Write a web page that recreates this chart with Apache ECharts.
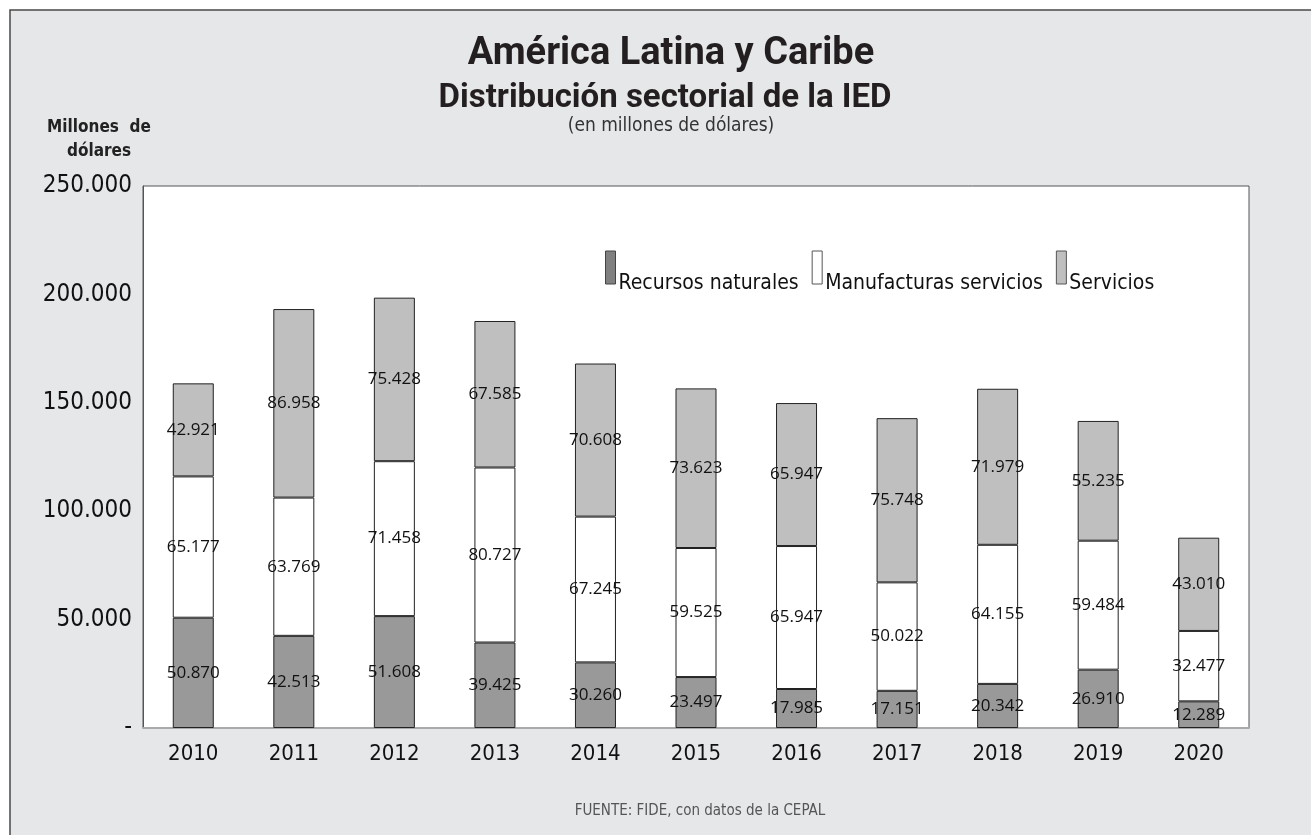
<!DOCTYPE html>
<html>
<head>
<meta charset="utf-8">
<script src="https://cdn.jsdelivr.net/npm/echarts@6/dist/echarts.min.js"></script>
<style>
  html, body { margin: 0; padding: 0; background: #ffffff; }
  #chart { width: 1311px; height: 835px; }
</style>
</head>
<body>
<div id="chart"></div>
<script>
// Años y valores por sector (millones de dólares)
const years = ['2010', '2011', '2012', '2013', '2014', '2015', '2016', '2017', '2018', '2019', '2020'];
const recursosNaturales = [50870, 42513, 51608, 39425, 30260, 23497, 17985, 17151, 20342, 26910, 12289];
const manufacturas = [65177, 63769, 71458, 80727, 67245, 59525, 65947, 50022, 64155, 59484, 32477];
const servicios = [42921, 86958, 75428, 67585, 70608, 73623, 65947, 75748, 71979, 55235, 43010];
const yTicks = [0, 50000, 100000, 150000, 200000, 250000];

const NARROW = "'Liberation Sans Narrow', 'Arial Narrow', 'DejaVu Sans Condensed', sans-serif";
const LABEL_FONT = "'Open Sans', 'Noto Sans', sans-serif";
const TITLE_FONT = "Roboto, 'Noto Sans', sans-serif";

// Separador de miles con punto
function fmt(v) {
  return String(v).replace(/\B(?=(\d{3})+(?!\d))/g, '.');
}

const barLabel = {
  show: true,
  position: 'inside',
  formatter: p => fmt(p.value),
  color: '#111',
  fontFamily: LABEL_FONT,
  fontSize: 17
};

function barSeries(name, data, color) {
  return {
    name: name,
    type: 'bar',
    stack: 'total',
    data: data,
    barWidth: 41,
    itemStyle: { color: color, borderColor: '#222', borderWidth: 1 },
    label: barLabel,
    emphasis: { disabled: true }
  };
}

const chart = echarts.init(document.getElementById('chart'), null, { renderer: 'canvas' });

chart.setOption({
  animation: false,
  backgroundColor: '#ffffff',
  graphic: [
    {
      type: 'rect', z: -10, silent: true,
      shape: { x: 10, y: 10, width: 1330, height: 850 },
      style: { fill: '#e6e7e9', stroke: '#4a4a4a', lineWidth: 1.5 }
    },
    {
      type: 'text', x: 671, y: 35,
      style: { text: 'América Latina y Caribe', font: 'bold 38px ' + TITLE_FONT, fill: '#231f20', align: 'center' }
    },
    {
      type: 'text', x: 665, y: 82,
      style: { text: 'Distribución sectorial de la IED', font: 'bold 33px ' + TITLE_FONT, fill: '#231f20', align: 'center' }
    },
    {
      type: 'text', x: 671, y: 117,
      style: { text: '(en millones de dólares)', font: '19px ' + NARROW, fill: '#333', align: 'center' }
    },
    {
      type: 'text', x: 99, y: 116,
      style: { text: 'Millones  de\ndólares', font: 'bold 17px ' + NARROW, fill: '#222', align: 'center', lineHeight: 24 }
    },
    {
      type: 'text', x: 700, y: 804,
      style: { text: 'FUENTE: FIDE, con datos de la CEPAL', font: '15px ' + NARROW, fill: '#555', align: 'center' }
    }
  ],
  grid: {
    left: 143, right: 62, top: 186, bottom: 107,
    show: true, backgroundColor: '#ffffff', borderColor: '#555', borderWidth: 1
  },
  legend: {
    left: 600, top: 236,
    itemWidth: 10, itemHeight: 33, itemGap: 13,
    selectedMode: false,
    formatter: '{t|{name}}',
    textStyle: {
      rich: {
        t: { fontFamily: NARROW, fontSize: 21, color: '#111', lineHeight: 22, padding: [32, 0, 0, -2] }
      }
    },
    data: [
      { name: 'Recursos naturales', icon: 'rect', itemStyle: { color: '#808080', borderColor: '#444', borderWidth: 1 } },
      { name: 'Manufacturas servicios', icon: 'rect', itemStyle: { color: '#ffffff', borderColor: '#555', borderWidth: 1 } },
      { name: 'Servicios', icon: 'rect', itemStyle: { color: '#bfbfbf', borderColor: '#555', borderWidth: 1 } }
    ]
  },
  xAxis: {
    type: 'category',
    data: years,
    axisTick: { show: false },
    axisLine: { lineStyle: { color: '#aaa', width: 2 } },
    axisLabel: { color: '#111', fontFamily: NARROW, fontSize: 22, margin: 15 }
  },
  yAxis: {
    type: 'value',
    min: yTicks[0], max: yTicks[yTicks.length - 1], interval: yTicks[1] - yTicks[0],
    splitLine: { show: false },
    axisTick: { show: false },
    axisLine: { show: true, lineStyle: { color: '#555', width: 1 } },
    axisLabel: {
      color: '#111', fontFamily: NARROW, fontSize: 24, margin: 11,
      formatter: v => (v === 0 ? '-' : fmt(v))
    }
  },
  series: [
    barSeries('Recursos naturales', recursosNaturales, '#999999'),
    barSeries('Manufacturas servicios', manufacturas, '#ffffff'),
    barSeries('Servicios', servicios, '#bfbfbf')
  ]
});
</script>
</body>
</html>
